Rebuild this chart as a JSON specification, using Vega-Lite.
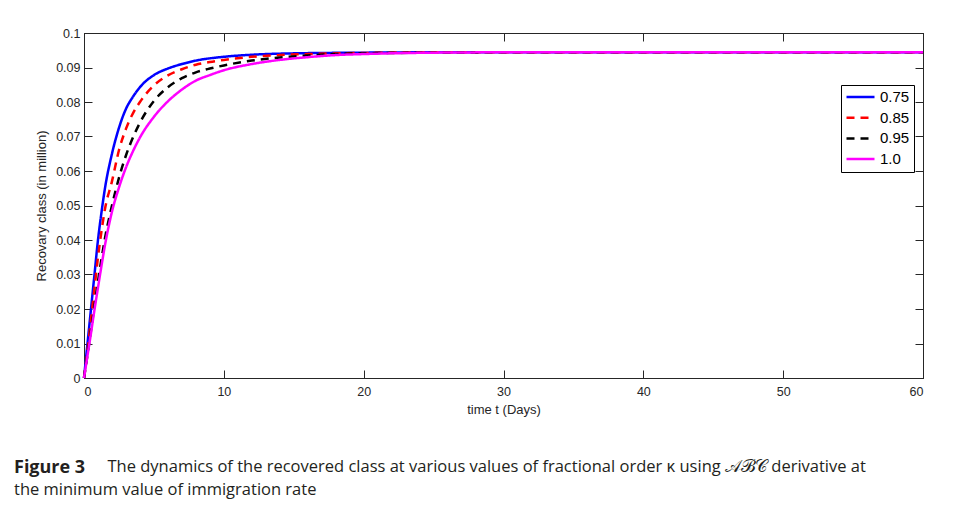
{
  "$schema": "https://vega.github.io/schema/vega-lite/v6.json",
  "width": 839,
  "height": 345,
  "autosize": "none",
  "padding": {"left": 84, "top": 33, "right": 32, "bottom": 136},
  "background": "white",
  "title": {
    "text": "Figure 3",
    "subtitle": ["\u200b\u2003\u2003\u2003\u2003\u2003\u2002\u2009The dynamics of the recovered class at various values of fractional order κ using 𝒜ℬ𝒞 derivative at", "the minimum value of immigration rate"],
    "orient": "bottom",
    "anchor": "start",
    "frame": "group",
    "dx": -70,
    "offset": 42,
    "font": "Open Sans",
    "fontSize": 18,
    "fontWeight": "bold",
    "color": "#231f20",
    "subtitleFont": "Open Sans",
    "subtitleFontSize": 16.5,
    "subtitleFontWeight": "normal",
    "subtitleColor": "#231f20",
    "subtitlePadding": -17.5,
    "subtitleLineHeight": 23
  },
  "config": {
    "view": {"stroke": "black", "strokeWidth": 1},
    "axis": {
      "grid": false,
      "domainColor": "#262626",
      "tickColor": "#262626",
      "labelColor": "#262626",
      "titleColor": "#262626",
      "labelFont": "Liberation Sans",
      "titleFont": "Liberation Sans",
      "labelFontSize": 12.5,
      "titleFontSize": 13,
      "titleFontWeight": "normal"
    },
    "legend": {
      "orient": "none",
      "legendX": 757,
      "legendY": 52,
      "strokeColor": "black",
      "fillColor": "white",
      "padding": 4,
      "symbolType": "stroke",
      "symbolSize": 784,
      "symbolStrokeWidth": 2.5,
      "clipHeight": 16,
      "labelFont": "Liberation Sans",
      "labelFontSize": 15,
      "labelColor": "black",
      "rowPadding": 4.7,
      "labelOffset": 4
    }
  },
  "data": {
    "values": [
      {"t": 0, "v": 0, "k": "0.75"},
      {"t": 0.25, "v": 0.010, "k": "0.75"},
      {"t": 0.5, "v": 0.020, "k": "0.75"},
      {"t": 0.75, "v": 0.030, "k": "0.75"},
      {"t": 1, "v": 0.040, "k": "0.75"},
      {"t": 1.25, "v": 0.048, "k": "0.75"},
      {"t": 1.5, "v": 0.055, "k": "0.75"},
      {"t": 2, "v": 0.065, "k": "0.75"},
      {"t": 2.5, "v": 0.0725, "k": "0.75"},
      {"t": 3, "v": 0.078, "k": "0.75"},
      {"t": 3.5, "v": 0.0815, "k": "0.75"},
      {"t": 4, "v": 0.0843, "k": "0.75"},
      {"t": 5, "v": 0.0878, "k": "0.75"},
      {"t": 6, "v": 0.0897, "k": "0.75"},
      {"t": 7, "v": 0.0910, "k": "0.75"},
      {"t": 8, "v": 0.0920, "k": "0.75"},
      {"t": 10, "v": 0.0931, "k": "0.75"},
      {"t": 12, "v": 0.0937, "k": "0.75"},
      {"t": 15, "v": 0.0941, "k": "0.75"},
      {"t": 20, "v": 0.0943, "k": "0.75"},
      {"t": 25, "v": 0.0944, "k": "0.75"},
      {"t": 40, "v": 0.0944, "k": "0.75"},
      {"t": 60, "v": 0.0944, "k": "0.75"},

      {"t": 0, "v": 0, "k": "0.85"},
      {"t": 0.25, "v": 0.008, "k": "0.85"},
      {"t": 0.5, "v": 0.017, "k": "0.85"},
      {"t": 0.75, "v": 0.026, "k": "0.85"},
      {"t": 1, "v": 0.035, "k": "0.85"},
      {"t": 1.25, "v": 0.0425, "k": "0.85"},
      {"t": 1.5, "v": 0.049, "k": "0.85"},
      {"t": 2, "v": 0.057, "k": "0.85"},
      {"t": 2.5, "v": 0.066, "k": "0.85"},
      {"t": 3, "v": 0.0722, "k": "0.85"},
      {"t": 3.5, "v": 0.0767, "k": "0.85"},
      {"t": 4, "v": 0.0800, "k": "0.85"},
      {"t": 5, "v": 0.0848, "k": "0.85"},
      {"t": 6, "v": 0.0877, "k": "0.85"},
      {"t": 7, "v": 0.0895, "k": "0.85"},
      {"t": 8, "v": 0.0908, "k": "0.85"},
      {"t": 9, "v": 0.0916, "k": "0.85"},
      {"t": 10, "v": 0.0922, "k": "0.85"},
      {"t": 12, "v": 0.0931, "k": "0.85"},
      {"t": 14, "v": 0.0936, "k": "0.85"},
      {"t": 16, "v": 0.0939, "k": "0.85"},
      {"t": 18, "v": 0.0941, "k": "0.85"},
      {"t": 20, "v": 0.0942, "k": "0.85"},
      {"t": 25, "v": 0.0944, "k": "0.85"},
      {"t": 40, "v": 0.0944, "k": "0.85"},
      {"t": 60, "v": 0.0944, "k": "0.85"},

      {"t": 0, "v": 0, "k": "0.95"},
      {"t": 0.25, "v": 0.0068, "k": "0.95"},
      {"t": 0.5, "v": 0.0138, "k": "0.95"},
      {"t": 0.75, "v": 0.021, "k": "0.95"},
      {"t": 1, "v": 0.028, "k": "0.95"},
      {"t": 1.25, "v": 0.0345, "k": "0.95"},
      {"t": 1.5, "v": 0.0405, "k": "0.95"},
      {"t": 2, "v": 0.050, "k": "0.95"},
      {"t": 2.5, "v": 0.058, "k": "0.95"},
      {"t": 3, "v": 0.0645, "k": "0.95"},
      {"t": 3.5, "v": 0.0697, "k": "0.95"},
      {"t": 4, "v": 0.0740, "k": "0.95"},
      {"t": 5, "v": 0.0803, "k": "0.95"},
      {"t": 6, "v": 0.0843, "k": "0.95"},
      {"t": 7, "v": 0.0869, "k": "0.95"},
      {"t": 8, "v": 0.0886, "k": "0.95"},
      {"t": 9, "v": 0.0897, "k": "0.95"},
      {"t": 10, "v": 0.0906, "k": "0.95"},
      {"t": 12, "v": 0.0920, "k": "0.95"},
      {"t": 14, "v": 0.0929, "k": "0.95"},
      {"t": 16, "v": 0.0935, "k": "0.95"},
      {"t": 18, "v": 0.0939, "k": "0.95"},
      {"t": 20, "v": 0.0941, "k": "0.95"},
      {"t": 25, "v": 0.0943, "k": "0.95"},
      {"t": 30, "v": 0.0944, "k": "0.95"},
      {"t": 60, "v": 0.0944, "k": "0.95"},

      {"t": 0, "v": 0, "k": "1.0"},
      {"t": 0.25, "v": 0.0065, "k": "1.0"},
      {"t": 0.5, "v": 0.013, "k": "1.0"},
      {"t": 0.75, "v": 0.0198, "k": "1.0"},
      {"t": 1, "v": 0.0262, "k": "1.0"},
      {"t": 1.25, "v": 0.0325, "k": "1.0"},
      {"t": 1.5, "v": 0.0385, "k": "1.0"},
      {"t": 2, "v": 0.0482, "k": "1.0"},
      {"t": 2.5, "v": 0.0552, "k": "1.0"},
      {"t": 3, "v": 0.061, "k": "1.0"},
      {"t": 3.5, "v": 0.0657, "k": "1.0"},
      {"t": 4, "v": 0.0697, "k": "1.0"},
      {"t": 5, "v": 0.0757, "k": "1.0"},
      {"t": 6, "v": 0.0802, "k": "1.0"},
      {"t": 7, "v": 0.0836, "k": "1.0"},
      {"t": 8, "v": 0.0862, "k": "1.0"},
      {"t": 9, "v": 0.0878, "k": "1.0"},
      {"t": 10, "v": 0.0892, "k": "1.0"},
      {"t": 12, "v": 0.0910, "k": "1.0"},
      {"t": 14, "v": 0.0922, "k": "1.0"},
      {"t": 16, "v": 0.0930, "k": "1.0"},
      {"t": 18, "v": 0.0936, "k": "1.0"},
      {"t": 20, "v": 0.0939, "k": "1.0"},
      {"t": 25, "v": 0.0943, "k": "1.0"},
      {"t": 30, "v": 0.0944, "k": "1.0"},
      {"t": 60, "v": 0.0944, "k": "1.0"}
    ]
  },
  "layer": [
    {
      "mark": {"type": "line", "strokeWidth": 2.5, "interpolate": "monotone"},
      "encoding": {
        "x": {
          "field": "t", "type": "quantitative",
          "scale": {"domain": [0, 60], "nice": false},
          "axis": {"values": [0, 10, 20, 30, 40, 50, 60], "format": "d", "title": "time t (Days)", "tickSize": -8, "labelPadding": 15, "titlePadding": 6}
        },
        "y": {
          "field": "v", "type": "quantitative",
          "scale": {"domain": [0, 0.1], "nice": false},
          "axis": {"values": [0, 0.01, 0.02, 0.03, 0.04, 0.05, 0.06, 0.07, 0.08, 0.09, 0.1], "format": "~g", "title": "Recovary class (in million)", "tickSize": -8, "labelPadding": 12, "titlePadding": 7}
        },
        "color": {
          "field": "k", "type": "nominal", "title": null,
          "scale": {"domain": ["0.75", "0.85", "0.95", "1.0"], "range": ["#0000ff", "#ff0000", "#000000", "#ff00ff"]}
        },
        "strokeDash": {
          "field": "k", "type": "nominal", "title": null,
          "scale": {"domain": ["0.75", "0.85", "0.95", "1.0"], "range": [[1, 0], [8, 6], [8, 6], [1, 0]]}
        }
      }
    },
    {
      "mark": {"type": "line", "opacity": 0},
      "encoding": {
        "x": {
          "field": "t", "type": "quantitative",
          "axis": {"orient": "top", "values": [0, 10, 20, 30, 40, 50, 60], "labels": false, "title": null, "tickSize": -8}
        },
        "y": {
          "field": "v", "type": "quantitative",
          "axis": {"orient": "right", "values": [0, 0.01, 0.02, 0.03, 0.04, 0.05, 0.06, 0.07, 0.08, 0.09, 0.1], "labels": false, "title": null, "tickSize": -8}
        },
        "detail": {"field": "k", "type": "nominal"}
      }
    }
  ],
  "resolve": {"axis": {"x": "independent", "y": "independent"}}
}
